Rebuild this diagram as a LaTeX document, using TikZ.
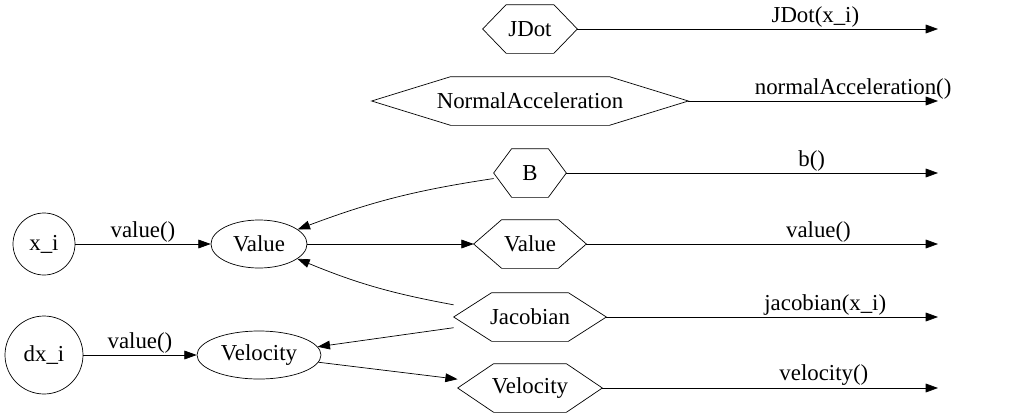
\documentclass[tikz,border=0pt]{standalone}
\usepackage{fontspec}
\setmainfont{Liberation Serif}
\usetikzlibrary{arrows.meta,shapes.geometric}
\tikzset{
  lbl/.style={font=\fontsize{13}{15}\selectfont},
  src/.style={lbl,circle,draw,inner sep=0pt},
  val/.style={lbl,ellipse,draw,inner sep=0pt},
  hex/.style={lbl,inner sep=0pt,minimum height=48*0.02cm},
  edge/.style={-{Triangle[length=7pt,width=5pt]}}
}
\begin{document}
\begin{tikzpicture}[x=0.02cm,y=-0.02cm]
\useasboundingbox (0,0) rectangle (1014,419);
% inputs
\node[src,minimum size=62*0.02cm] (xi) at (44,244) {x\_i};
\node[src,minimum size=78*0.02cm] (dxi) at (44,355) {dx\_i};
\node[val,minimum width=96*0.02cm,minimum height=48*0.02cm] (value) at (259,244) {Value};
\node[val,minimum width=124*0.02cm,minimum height=48*0.02cm] (velocity) at (259,355) {Velocity};
% outputs
\node[hex,minimum width=94*0.02cm] (jdot) at (530,29) {JDot};
\node[hex,minimum width=316*0.02cm] (normacc) at (530,101) {NormalAcceleration};
\node[hex,minimum width=72*0.02cm] (b) at (530,173) {B};
\node[hex,minimum width=112*0.02cm] (valueout) at (530,244) {Value};
\node[hex,minimum width=152*0.02cm] (jacobian) at (530,317) {Jacobian};
\node[hex,minimum width=144*0.02cm] (velout) at (530,388) {Velocity};
\foreach \n/\w in {jdot/94,normacc/316,b/72,valueout/112,jacobian/152,velout/144}
  \draw (\n.west) -- ([xshift=\w*0.005cm]\n.north west) -- ([xshift=-\w*0.005cm]\n.north east)
    -- (\n.east) -- ([xshift=-\w*0.005cm]\n.south east) -- ([xshift=\w*0.005cm]\n.south west) -- cycle;
\foreach \n/\y/\t in {jdot/29/JDot(x\_i),normacc/101/normalAcceleration(),b/173/b(),valueout/244/value(),jacobian/317/jacobian(x\_i),velout/388/velocity()} {
  \coordinate (\n-end) at (938,\y);
  \draw[edge] (\n) -- node[lbl,above,inner sep=1pt,pos=0.66] {\t} (\n-end);
}
% connectors
\draw[edge] (xi) -- node[lbl,above,inner sep=1pt] {value()} (value);
\draw[edge] (dxi) -- node[lbl,above,inner sep=1pt] {value()} (velocity);
\draw[edge] (value) -- (valueout);
\draw[edge] (b) to[bend right=6] (value);
\draw[edge] (jacobian) to[bend left=6] (value);
\draw[edge] (jacobian) -- (velocity);
\draw[edge] (velocity) -- (velout);
\end{tikzpicture}
\end{document}
